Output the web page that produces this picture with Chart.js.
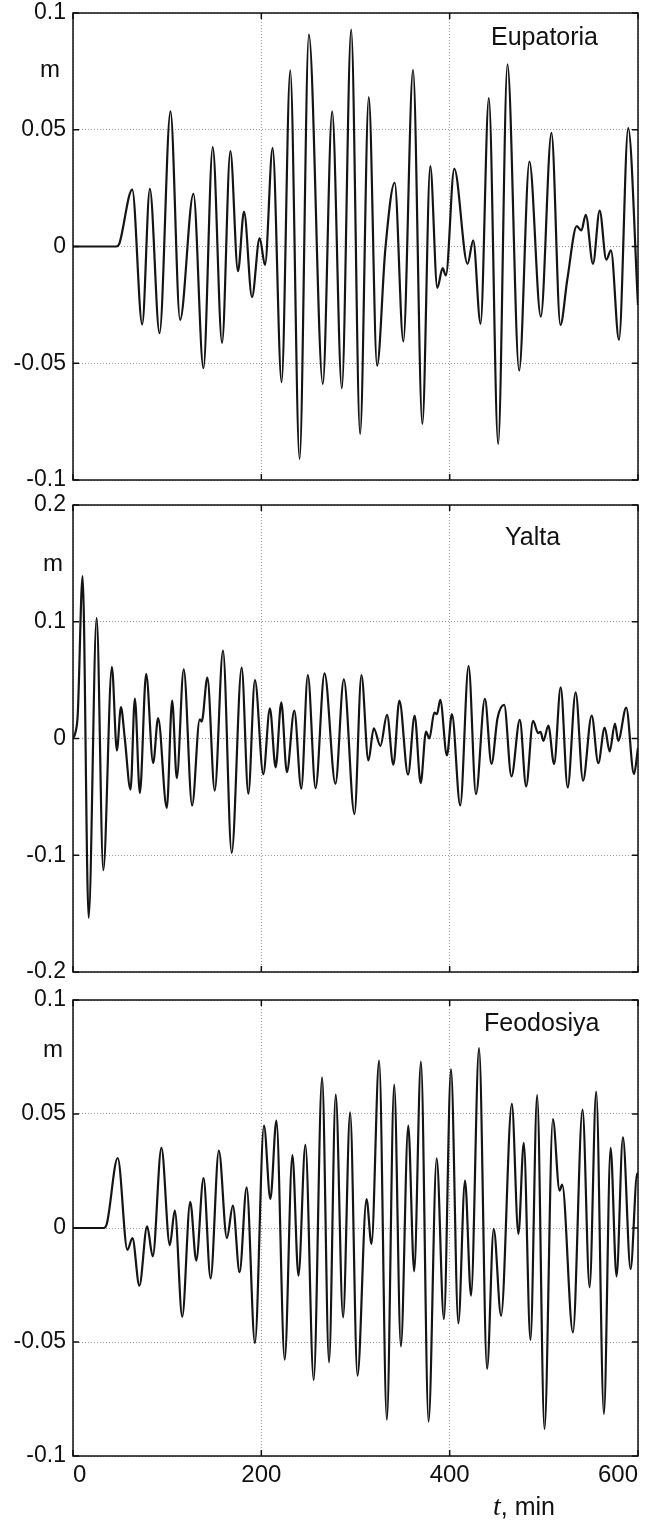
<!DOCTYPE html>
<html>
<head>
  <title>Sea level: Eupatoria, Yalta, Feodosiya</title>
  <script src="https://cdn.jsdelivr.net/npm/chart.js"></script>
  <style>
    body { margin: 0; background: #fff; font-family: 'Liberation Sans', Arial, sans-serif; }
    #page { position: relative; width: 645px; height: 1521px; overflow: hidden; }
    canvas { position: absolute; left: 0; }
    .lbl { position: absolute; color: #111; white-space: nowrap; line-height: 1; }
    .station { font-size: 25px; }
    .unit { font-size: 24px; }
    .tlabel { font-size: 25px; }
    .tlabel i { font-family: 'Liberation Serif', 'Times New Roman', serif; font-size: 28px; }
  </style>
</head>
<body>
<div id="page">
  <canvas id="eupChart" width="645" height="495" style="top:0px"></canvas>
  <canvas id="yaltaChart" width="645" height="495" style="top:490px"></canvas>
  <canvas id="feoChart" width="645" height="536" style="top:985px"></canvas>

  <div class="lbl station" style="left:491px; top:24px">Eupatoria</div>
  <div class="lbl station" style="left:505px; top:524px">Yalta</div>
  <div class="lbl station" style="left:484px; top:1010px">Feodosiya</div>

  <div class="lbl unit" style="left:40px; top:57px">m</div>
  <div class="lbl unit" style="left:43px; top:551px">m</div>
  <div class="lbl unit" style="left:43px; top:1037px">m</div>

  <div class="lbl tlabel" style="left:493px; top:1492px"><i>t</i>, min</div>
</div>

<script>
  // time, min
  const eupTime = [0, 46, 49, 62.9, 73.5, 81.6, 91.9, 103.5, 113.7, 127.9,
    138.5, 148.4, 158.3, 167.1, 175.2, 181.6, 190.1, 198.2, 203.9, 212,
    221.5, 230.7, 240.6, 250.5, 265.3, 275.2, 285.5, 295.4, 304.9, 314.1,
    322.9, 331.7, 341.6, 350.8, 361.1, 371, 379.4, 386.9, 392.5, 396,
    404.9, 419, 425, 432.8, 441.6, 451.5, 461.4, 473.8, 484.7, 496.8,
    508.1, 517.6, 525, 535, 539.9, 544.5, 552.2, 559.3, 566.3, 571.3,
    579.8, 589.6, 600];
  // sea level, m
  const eupLevel = [0, 0, 0.001, 0.0244, -0.0334, 0.0247, -0.0371, 0.0579, -0.0314, 0.0226,
    -0.0521, 0.0426, -0.0413, 0.0409, -0.0106, 0.015, -0.0217, 0.0036, -0.0079, 0.0421,
    -0.0581, 0.0754, -0.091, 0.0907, -0.0589, 0.0579, -0.0607, 0.0929, -0.0803, 0.064,
    -0.051, -0.001, 0.0273, -0.0406, 0.0757, -0.076, 0.0344, -0.0177, -0.0093, -0.0124,
    0.0333, -0.0074, 0.0026, -0.0331, 0.0636, -0.0846, 0.078, -0.0531, 0.0364, -0.03,
    0.0487, -0.0336, -0.0139, 0.0087, 0.0069, 0.0136, -0.0074, 0.0154, -0.0056, -0.0017,
    -0.04, 0.0507, -0.025];

  const yaltaTime = [0, 2.5, 5, 10.2, 16.6, 25.1, 32.2, 41.3, 46.6, 50.9, 55,
    61.1, 65.7, 71, 77.7, 85.1, 90.4, 99.6, 105.3, 110.2, 117.6,
    126.5, 134.6, 136.7, 142.7, 150.5, 159.3, 168.5, 179.1, 186.2, 193.2,
    202.1, 209.1, 215.2, 221.2, 227.1, 235, 242.4, 249.4, 257.6, 267.1,
    278.7, 287.6, 298.9, 306.3, 313.7, 319.4, 326.4, 333.5, 340.2, 346.6,
    355.8, 362.8, 369.2, 374.9, 378.4, 383.7, 386.5, 390, 397.1, 402.4,
    411.2, 420.1, 427.9, 437.4, 444.4, 450.8, 457.9, 465.6, 474.5, 481.2,
    488.6, 493.9, 496.5, 499.5, 504.8, 510.9, 517.9, 525.3, 533.8, 541.6,
    550.8, 557.8, 564.6, 569.9, 575.5, 579, 587.5, 595.7, 600];
  const yaltaLevel = [0, 0.005, 0.02, 0.139, -0.1536, 0.1034, -0.1128, 0.0613, -0.0103, 0.0268, 0,
    -0.0439, 0.0342, -0.0467, 0.0553, -0.0211, 0.0174, -0.0595, 0.0325, -0.0339, 0.0593,
    -0.0573, 0.0165, 0.0145, 0.0521, -0.0447, 0.0752, -0.098, 0.0607, -0.0473, 0.0501,
    -0.0305, 0.0259, -0.0248, 0.031, -0.0288, 0.0239, -0.043, 0.0544, -0.0425, 0.0558,
    -0.0387, 0.0507, -0.0647, 0.0544, -0.0188, 0.0088, -0.0063, 0.0202, -0.0225, 0.0325,
    -0.031, 0.0197, -0.0382, 0.006, 0, 0.0222, 0.0208, 0.033, -0.0145, 0.0208,
    -0.0573, 0.0621, -0.0476, 0.0339, -0.0217, 0.0174, 0.0288, -0.0325, 0.016, -0.041,
    0.0151, 0.0046, 0.0058, -0.002, 0.0111, -0.0219, 0.0439, -0.0419, 0.0396, -0.0362,
    0.0197, -0.0211, 0.0094, -0.0111, 0.0128, -0.002, 0.0265, -0.0305, -0.008];

  const feoTime = [0, 32.6, 36, 47.5, 57.8, 63.1, 70.5, 78.7, 84.7, 93.9,
    102.8, 108.1, 116, 124.5, 130.9, 138.6, 146.1, 154.9, 163.4, 169.8,
    176.9, 184.4, 193.2, 202.8, 209.6, 216, 224.8, 233, 239.4, 246.8,
    255.6, 264.5, 271.9, 279, 286.8, 294.3, 302.1, 311.7, 317, 325.1,
    333.3, 341.1, 348.2, 356, 362.3, 369.5, 377.6, 386.2, 393.9, 401.4,
    409.2, 416.3, 422.7, 431.2, 439.7, 446.8, 454.6, 466, 473, 478.7,
    485.8, 492.9, 500.7, 509.6, 516.7, 519.5, 530.9, 541.1, 548.6, 555.6,
    563.8, 570.9, 577.2, 584, 592.1, 599.2, 600];
  const feoLevel = [0, 0, 0.002, 0.0307, -0.0096, -0.0044, -0.0253, 0.0007, -0.0124, 0.0351,
    -0.0075, 0.0076, -0.0389, 0.0115, -0.0143, 0.0219, -0.0221, 0.0339, -0.0044, 0.0098,
    -0.0194, 0.0178, -0.0504, 0.0449, 0.0127, 0.0471, -0.0577, 0.032, -0.0209, 0.0365,
    -0.0667, 0.0661, -0.0589, 0.0585, -0.0392, 0.0507, -0.0648, 0.0127, -0.007, 0.0734,
    -0.0841, 0.0629, -0.0519, 0.0449, -0.019, 0.073, -0.0849, 0.0306, -0.0399, 0.0697,
    -0.0418, 0.0208, -0.0297, 0.0789, -0.0618, -0.0004, -0.0385, 0.0544, -0.0026, 0.0373,
    -0.0491, 0.0583, -0.0882, 0.0478, 0.0164, 0.019, -0.0458, 0.0519, -0.026, 0.0598,
    -0.0816, 0.0351, -0.0212, 0.0398, -0.018, 0.024, 0.022];

  const timeTicks = [0, 200, 400, 600];
  const levelRangeSmall = [-0.1, 0.1, 0.05];
  const levelRangeBig = [-0.2, 0.2, 0.1];

  const FONT = "'Liberation Sans', Arial, sans-serif";

  // box round the plot area with short inward tick marks (matlab style)
  const framePlugin = {
    id: 'frame',
    afterDraw(chart) {
      const { ctx, chartArea: a, scales: { x, y } } = chart;
      ctx.save();
      ctx.strokeStyle = '#111';
      ctx.lineWidth = 1.5;
      ctx.beginPath();
      x.ticks.forEach(t => {
        const px = x.getPixelForValue(t.value);
        ctx.moveTo(px, a.bottom); ctx.lineTo(px, a.bottom - 6);
        ctx.moveTo(px, a.top); ctx.lineTo(px, a.top + 6);
      });
      y.ticks.forEach(t => {
        const py = y.getPixelForValue(t.value);
        ctx.moveTo(a.left, py); ctx.lineTo(a.left + 6, py);
        ctx.moveTo(a.right, py); ctx.lineTo(a.right - 6, py);
      });
      ctx.stroke();
      ctx.strokeRect(a.left, a.top, a.right - a.left, a.bottom - a.top);
      ctx.restore();
    }
  };

  // stop the scales from pushing the plot area in for their end labels
  function noPad(s) {
    s.paddingTop = 0; s.paddingBottom = 0; s.paddingLeft = 0; s.paddingRight = 0;
  }

  function makeChart(id, time, level, range, opts) {
    const pts = time.map((t, i) => ({ x: t, y: level[i] }));
    return new Chart(document.getElementById(id), {
      type: 'line',
      data: {
        datasets: [{
          data: pts,
          borderColor: '#141414',
          borderWidth: 2.2,
          pointRadius: 0,
          cubicInterpolationMode: 'monotone',
          fill: false
        }]
      },
      options: {
        responsive: false,
        animation: false,
        devicePixelRatio: 1,
        layout: { autoPadding: false, padding: { top: opts.padTop, bottom: opts.padBottom, left: 0, right: 7 } },
        plugins: { legend: { display: false }, tooltip: { enabled: false } },
        scales: {
          x: {
            type: 'linear',
            min: 0, max: 600,
            afterBuildTicks: s => { s.ticks = timeTicks.map(v => ({ value: v })); },
            afterFit: s => { s.height = opts.xHeight; noPad(s); },
            grid: { color: '#9a9a9a', lineWidth: 1, drawTicks: false },
            border: { display: false, dash: [1, 2] },
            ticks: {
              display: opts.showTime,
              align: 'inner',
              padding: 5,
              color: '#111',
              font: { family: FONT, size: 24 }
            }
          },
          y: {
            min: range[0], max: range[1],
            ticks: {
              stepSize: range[2],
              padding: 7,
              color: '#111',
              font: { family: FONT, size: 23 },
              callback: v => String(parseFloat(Number(v).toFixed(2)))
            },
            afterFit: s => { s.width = 73; noPad(s); },
            grid: { color: '#9a9a9a', lineWidth: 1, drawTicks: false },
            border: { display: false, dash: [1, 2] }
          }
        }
      },
      plugins: [framePlugin]
    });
  }

  makeChart('eupChart', eupTime, eupLevel, levelRangeSmall, { padTop: 13, padBottom: 15, xHeight: 0, showTime: false });
  makeChart('yaltaChart', yaltaTime, yaltaLevel, levelRangeBig, { padTop: 15, padBottom: 13, xHeight: 0, showTime: false });
  makeChart('feoChart', feoTime, feoLevel, levelRangeSmall, { padTop: 15, padBottom: 25, xHeight: 40, showTime: true });
</script>
</body>
</html>
